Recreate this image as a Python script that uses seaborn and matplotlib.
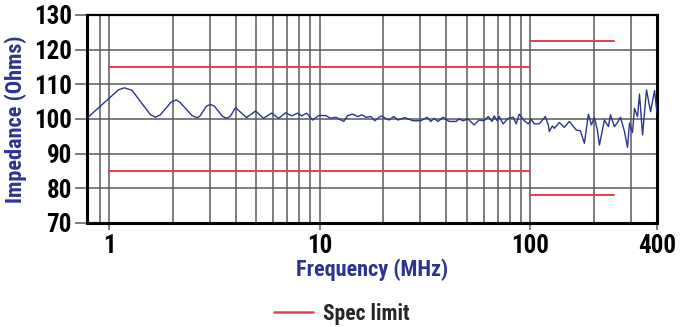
import numpy as np
import pandas as pd
import seaborn as sns
import matplotlib
matplotlib.use("Agg")
import matplotlib.pyplot as plt
from matplotlib.ticker import FixedLocator, NullFormatter
from matplotlib.lines import Line2D
from matplotlib import font_manager as fm

# ---- data ----
freq_mhz = [0.794, 1.107, 1.179, 1.283, 1.568, 1.656, 1.750, 1.973, 2.085, 2.162,
            2.476, 2.624, 2.713, 2.897, 3.027, 3.162, 3.452, 3.607, 3.767, 3.98, 4.49, 4.96,
            5.41, 5.91, 6.38, 6.89, 7.36, 7.85, 8.21, 8.67, 9.26, 9.89, 10.68,
            11.28, 11.92, 13.01, 13.59, 14.36, 15.17, 15.85, 16.56, 17.50, 18.28,
            19.52, 20.17, 21.31, 22.51, 23.52, 25.40, 27.73, 30.27, 32.32, 33.78,
            34.91, 36.47, 38.53, 41.14, 44.42, 45.91, 47.97, 50.67, 54.13, 57.18,
            60.40, 63.10, 65.92, 67.38, 69.64, 71.18, 74.36, 78.56, 82.99, 85.77,
            88.63, 93.63, 97.83, 101.1, 104.5, 110.4, 117.9, 121.8, 123.2, 127.3,
            130.1, 137.5, 145.2, 153.4, 165.6, 173.0, 180.8, 188.9, 195.2, 201.7,
            208.4, 213.1, 225.1, 235.2, 240.4, 251.2, 259.6, 268.3, 280.3, 289.7,
            296.1, 305.9, 312.7, 323.2, 330.4, 341.5, 356.8, 372.8, 389.5, 400.0]
impedance = [100.5, 108.4, 109.0, 108.3, 101.3, 100.5, 101.2, 104.9, 105.5, 104.9,
             101.0, 100.3, 101.0, 103.7, 104.2, 103.7, 100.8, 100.2, 100.8, 103.3, 100.4, 102.3,
             100.2, 101.7, 100.2, 101.8, 100.9, 101.7, 100.9, 101.7, 99.7, 101.0, 101.0,
             100.2, 100.5, 99.3, 101.0, 101.4, 100.7, 101.2, 100.5, 100.7, 99.5,
             100.9, 100.5, 99.7, 100.7, 99.7, 100.4, 99.5, 99.5, 100.5, 99.3,
             100.2, 99.3, 100.5, 99.3, 99.3, 100.0, 99.5, 100.0, 98.3, 99.7,
             99.5, 100.7, 99.3, 100.9, 99.5, 100.7, 98.6, 100.2, 100.5, 98.6,
             101.4, 99.5, 98.6, 99.9, 98.6, 98.6, 100.7, 98.3, 96.4, 98.0,
             97.3, 99.0, 97.6, 99.3, 96.8, 96.6, 93.0, 101.4, 98.3, 100.5,
             96.8, 92.5, 99.7, 97.8, 101.2, 97.8, 99.0, 100.5, 96.4, 91.8,
             98.8, 96.1, 103.1, 100.7, 107.2, 95.4, 108.4, 102.1, 108.2, 101.7]

spec_start = [1, 1, 100, 100]
spec_end = [100, 100, 250, 250]
spec_value = [115, 85, 122.5, 78]

x_ticks = [1, 10, 100, 400]
x_tick_labels = ["1", "10", "100", "400"]
x_minor = [0.9, 2, 3, 4, 5, 6, 7, 8, 9, 20, 30, 40, 50, 60, 70, 80, 90, 200, 300]
y_ticks = [70, 80, 90, 100, 110, 120, 130]

BLUE = "#2b3590"
RED = "#ef3b4b"
GRID = "#5a5a5a"

# pick a condensed/narrow bold face if one is installed
names = {f.name for f in fm.fontManager.ttflist}
cands = ["Liberation Sans Narrow", "DejaVu Sans Condensed", "Roboto Condensed",
         "Open Sans Condensed", "Noto Sans Condensed"]
FONT = [n for n in cands if n in names] + ["DejaVu Sans"]
STRETCH = "condensed"
WEIGHT = "heavy"

sns.set_style("white")
plt.rcParams["font.family"] = FONT
plt.rcParams["font.stretch"] = STRETCH

fig = plt.figure(figsize=(6.87, 3.27), dpi=100)
ax = fig.add_axes([87 / 687, 1 - 223 / 327, (657 - 87) / 687, (223 - 15) / 327])

df = pd.DataFrame({"freq": freq_mhz, "imp": impedance})
sns.lineplot(data=df, x="freq", y="imp", ax=ax, color=BLUE, linewidth=1.0,
             estimator=None, sort=False, zorder=4)

for s, e, v in zip(spec_start, spec_end, spec_value):
    ax.plot([s, e], [v, v], color=RED, linewidth=1.4, zorder=3)

ax.set_xscale("log")
ax.set_xlim(0.785, 400)
ax.set_ylim(70, 130)

ax.xaxis.set_major_locator(FixedLocator(x_ticks))
ax.set_xticklabels(x_tick_labels)
ax.xaxis.set_minor_locator(FixedLocator(x_minor))
ax.xaxis.set_minor_formatter(NullFormatter())
ax.set_yticks(y_ticks)

ax.grid(True, which="both", axis="x", color=GRID, linewidth=1.1)
ax.grid(True, which="major", axis="y", color=GRID, linewidth=1.1)
ax.set_axisbelow(True)

ax.tick_params(axis="y", which="major", length=9, width=1.1, color=GRID,
               labelsize=18, pad=2, direction="out", left=True)
ax.tick_params(axis="x", which="major", length=5, width=1.1, color=GRID,
               labelsize=18, pad=3, direction="out", bottom=True)
ax.tick_params(axis="x", which="minor", length=0)
for lab in ax.get_xticklabels() + ax.get_yticklabels():
    lab.set_fontweight(WEIGHT)
    lab.set_fontstretch(STRETCH)
    lab.set_color("black")

for side, sp in ax.spines.items():
    sp.set_visible(True)
    sp.set_color("black")
    sp.set_linewidth(2.2 if side != "top" else 1.6)

ax.set_xlabel("Frequency (MHz)", fontsize=16, fontweight=WEIGHT, color=BLUE,
              labelpad=0, fontstretch=STRETCH)
ax.set_ylabel("Impedance (Ohms)", fontsize=16, fontweight=WEIGHT, color=BLUE,
              labelpad=5, fontstretch=STRETCH)

handle = Line2D([0], [0], color=RED, linewidth=1.8)
fig.legend([handle], ["Spec limit"], loc="center", bbox_to_anchor=(342 / 687, 1 - 314 / 327),
           frameon=False,
           prop={"family": FONT, "weight": WEIGHT, "size": 15.5, "stretch": STRETCH},
           handlelength=1.8, handletextpad=0.45)

fig.savefig("out.png", dpi=100, facecolor="white")
